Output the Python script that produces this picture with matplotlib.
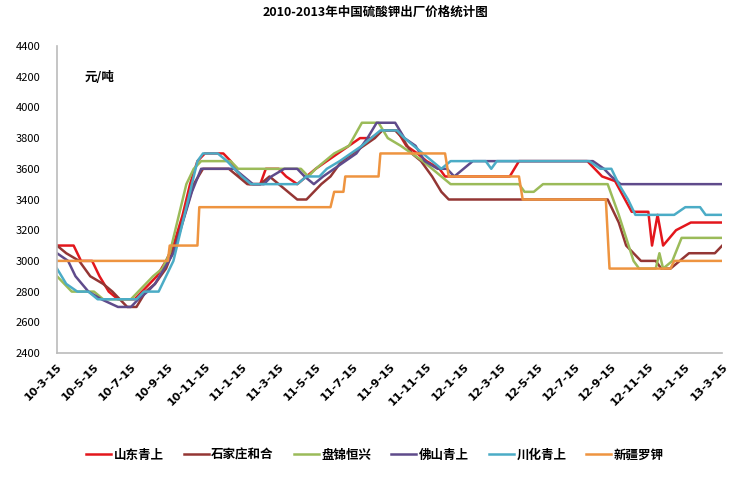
import matplotlib
matplotlib.use("Agg")
import matplotlib.pyplot as plt

plt.rcParams['font.family'] = ['Noto Sans CJK SC', 'DejaVu Sans']

# months counted from 2010-3-15
tick_labels = ['10-3-15', '10-5-15', '10-7-15', '10-9-15', '10-11-15', '11-1-15', '11-3-15',
               '11-5-15', '11-7-15', '11-9-15', '11-11-15', '12-1-15', '12-3-15', '12-5-15',
               '12-7-15', '12-9-15', '12-11-15', '13-1-15', '13-3-15']
tick_months = [0, 2, 4, 6, 8, 10, 12, 14, 16, 18, 20, 22, 24, 26, 28, 30, 32, 34, 36]

names = ['山东青上', '石家庄和合', '盘锦恒兴', '佛山青上', '川化青上', '新疆罗钾']
colors = ['#E3161C', '#943634', '#9BBB59', '#5F4B8B', '#4BACC6', '#EE9440']

shandong_m = [0, 0.9, 1.3, 1.9, 2.3, 2.8, 3.3, 4.2, 4.6, 5.0, 5.4, 5.9, 6.3, 6.8, 7.2, 7.6, 8.0, 9.0,
              9.4, 9.9, 10.4, 11.0, 11.3, 12.0, 12.4, 13.0, 13.5, 14.0, 14.6, 15.2, 15.8, 16.4, 17.0,
              17.6, 18.4, 18.9, 19.5, 20.0, 20.7, 21.0, 24.5, 25.0, 28.7, 29.5, 30.2, 31.1, 32.0,
              32.2, 32.5, 32.8, 33.5, 34.3, 36]
shandong_v = [3100, 3100, 3000, 3000, 2900, 2800, 2750, 2750, 2800, 2850, 2900, 3000, 3100, 3300,
              3500, 3650, 3700, 3700, 3650, 3550, 3500, 3500, 3600, 3600, 3550, 3500, 3550, 3600,
              3650, 3700, 3750, 3800, 3800, 3850, 3850, 3750, 3700, 3650, 3600, 3550, 3550, 3650,
              3650, 3550, 3520, 3320, 3320, 3100, 3300, 3100, 3200, 3250, 3250]

shijiazhuang_m = [0, 0.5, 1.2, 1.8, 2.5, 3.0, 3.4, 3.8, 4.3, 4.8, 5.3, 5.9, 6.4, 6.9, 7.4, 7.9, 9.3,
                  9.8, 10.3, 11.0, 11.5, 12.0, 12.5, 13.0, 13.5, 13.9, 14.3, 14.8, 15.4, 16.0, 16.6,
                  17.2, 17.6, 18.3, 18.7, 19.2, 19.7, 20.3, 20.8, 21.2, 29.8, 30.4, 30.8, 31.2,
                  31.6, 32.4, 32.7, 33.2, 34.2, 35.6, 36]
shijiazhuang_v = [3100, 3050, 3000, 2900, 2850, 2800, 2750, 2700, 2700, 2800, 2850, 2950, 3100,
                  3300, 3500, 3600, 3600, 3550, 3500, 3500, 3550, 3500, 3450, 3400, 3400, 3450,
                  3500, 3550, 3650, 3700, 3750, 3800, 3850, 3850, 3800, 3700, 3650, 3550, 3450,
                  3400, 3400, 3250, 3100, 3050, 3000, 3000, 2950, 2950, 3050, 3050, 3100]

panjin_m = [0, 0.4, 0.8, 2.0, 2.5, 4.0, 4.4, 4.8, 5.2, 5.7, 6.1, 6.6, 7.0, 7.4, 7.8, 9.4, 9.8, 13.2,
            13.6, 14.0, 14.5, 15.0, 15.8, 16.5, 17.4, 17.9, 18.6, 19.2, 19.8, 20.3, 20.8, 21.3,
            25.0, 25.3, 25.8, 26.3, 29.8, 30.4, 30.8, 31.2, 31.5, 32.4, 32.6, 32.8, 33.3, 33.8, 36]
panjin_v = [2900, 2850, 2800, 2800, 2750, 2750, 2800, 2850, 2900, 2950, 3050, 3300, 3500, 3600,
            3650, 3650, 3600, 3600, 3550, 3600, 3650, 3700, 3750, 3900, 3900, 3800, 3750, 3700,
            3650, 3600, 3550, 3500, 3500, 3450, 3450, 3500, 3500, 3300, 3150, 3000, 2950, 2950,
            3050, 2950, 3000, 3150, 3150]

foshan_m = [0, 0.6, 1.0, 1.7, 2.4, 3.3, 4.0, 4.4, 4.9, 5.3, 5.8, 6.3, 6.8, 7.3, 7.8, 9.6, 10.1, 10.6,
            11.2, 11.6, 12.3, 13.0, 13.4, 13.9, 14.4, 15.0, 15.6, 16.2, 16.8, 17.3, 18.3, 18.8,
            19.4, 19.9, 20.6, 21.1, 21.5, 22.0, 22.5, 29.0, 29.6, 30.0, 30.5, 36]
foshan_v = [3050, 3000, 2900, 2800, 2750, 2700, 2700, 2750, 2800, 2850, 2950, 3050, 3250, 3450,
            3600, 3600, 3550, 3500, 3500, 3550, 3600, 3600, 3550, 3500, 3550, 3600, 3650, 3700,
            3800, 3900, 3900, 3800, 3750, 3650, 3600, 3600, 3550, 3600, 3650, 3650, 3600, 3550,
            3500, 3500]

chuanhua_m = [0, 0.5, 1.1, 1.7, 2.2, 4.3, 4.7, 5.5, 5.9, 6.3, 6.7, 7.2, 7.6, 7.9, 8.7, 9.2, 9.6, 10.0,
              10.5, 13.0, 13.5, 14.2, 14.6, 15.3, 15.9, 16.5, 17.0, 17.5, 18.4, 18.8, 19.3, 19.8,
              20.3, 20.8, 21.3, 23.2, 23.5, 23.8, 28.8, 29.4, 30.0, 30.4, 30.9, 31.3, 33.4, 34.0,
              34.8, 35.1, 36]
chuanhua_v = [2950, 2850, 2800, 2800, 2750, 2750, 2800, 2800, 2900, 3000, 3200, 3450, 3650, 3700,
              3700, 3650, 3600, 3550, 3500, 3500, 3550, 3550, 3600, 3650, 3700, 3750, 3800, 3850,
              3850, 3800, 3750, 3700, 3650, 3600, 3650, 3650, 3600, 3650, 3650, 3600, 3600, 3500,
              3400, 3300, 3300, 3350, 3350, 3300, 3300]

xinjiang_m = [0, 6.0, 6.1, 7.6, 7.7, 14.8, 15.0, 15.5, 15.6, 17.4, 17.5, 21.0, 21.2, 25.0, 25.2,
              29.7, 29.9, 33.2, 33.4, 36]
xinjiang_v = [3000, 3000, 3100, 3100, 3350, 3350, 3450, 3450, 3550, 3550, 3700, 3700, 3550, 3550,
              3400, 3400, 2950, 2950, 3000, 3000]

series = [(shandong_m, shandong_v), (shijiazhuang_m, shijiazhuang_v), (panjin_m, panjin_v),
          (foshan_m, foshan_v), (chuanhua_m, chuanhua_v), (xinjiang_m, xinjiang_v)]

fig = plt.figure(figsize=(7.5, 5), dpi=100)
ax = fig.add_axes([0.076, 0.294, 0.887, 0.614])

for (m, v), name, c in zip(series, names, colors):
    ax.plot(m, v, color=c, lw=1.8, label=name, solid_joinstyle='round')

ax.set_xlim(0, 36)
ax.set_ylim(2400, 4400)
ax.set_yticks(range(2400, 4401, 200))
ax.set_xticks(tick_months)
ax.set_xticklabels(tick_labels, rotation=45, ha='right', rotation_mode='anchor',
                   fontsize=8, fontweight='bold', family='DejaVu Sans')
ax.tick_params(axis='y', labelsize=8, length=0, pad=12)
ax.tick_params(axis='x', length=0, pad=6)
for s in ['top', 'right']:
    ax.spines[s].set_visible(False)
for s in ['left', 'bottom']:
    ax.spines[s].set_color('#BBBBBB')
    ax.spines[s].set_linewidth(1.2)

ax.text(0.042, 0.896, '元/吨', transform=ax.transAxes, fontsize=9, fontweight='bold',
        va='center')
fig.text(0.5, 0.975, '2010-2013年中国硫酸钾出厂价格统计图', ha='center', va='center',
         fontsize=9, fontweight='bold')

fig.legend(loc='center', bbox_to_anchor=(0.5, 0.09), ncol=6, frameon=False,
           handlelength=2.0, handletextpad=0.2, columnspacing=1.6,
           prop={'size': 9, 'weight': 'bold'})

fig.savefig('out.png', dpi=100, facecolor='white')
